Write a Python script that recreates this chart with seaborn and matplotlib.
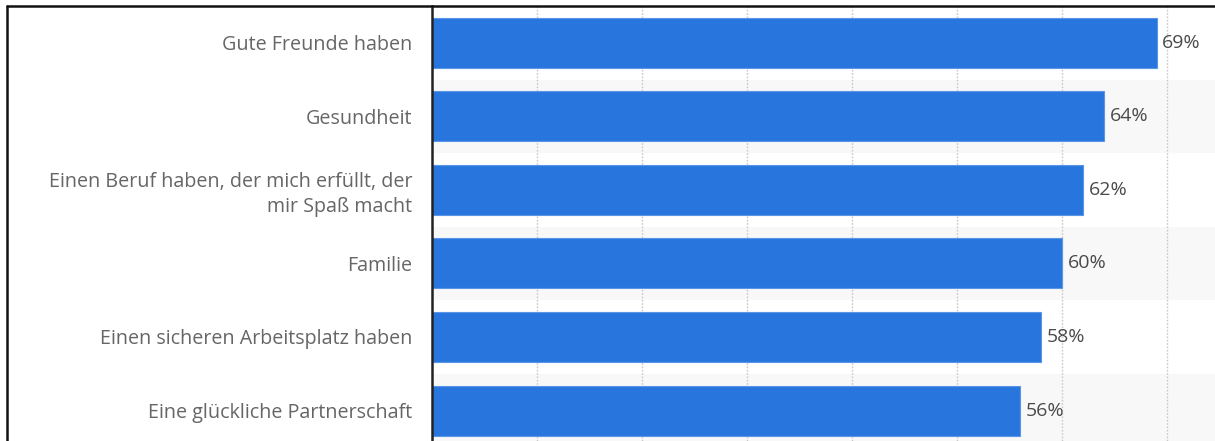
import matplotlib
matplotlib.use("Agg")
import matplotlib.pyplot as plt
from matplotlib.lines import Line2D
import seaborn as sns
import pandas as pd

categories = [
    "Gute Freunde haben",
    "Gesundheit",
    "Einen Beruf haben, der mich erfüllt, der\nmir Spaß macht",
    "Familie",
    "Einen sicheren Arbeitsplatz haben",
    "Eine glückliche Partnerschaft",
]
values = [69, 64, 62, 60, 58, 56]
value_labels = ["69%", "64%", "62%", "60%", "58%", "56%"]

sns.set_theme(style="white")
plt.rcParams['font.family'] = ['Open Sans', 'DejaVu Sans']

W, H = 1215, 441
fig = plt.figure(figsize=(W / 100, H / 100), dpi=100)
ax_left, ax_top = 432, 6
ax = fig.add_axes([ax_left / W, 0, 1 - ax_left / W, 1 - ax_top / H])

df = pd.DataFrame({"cat": categories, "val": values})
sns.barplot(data=df, y="cat", x="val", orient="h", color="#2876dd",
            saturation=1, width=0.68, ax=ax, zorder=3,
            edgecolor="#5a95e6", linewidth=0.8)

n = len(categories)
for i in range(n):
    if i % 2 == 1:
        ax.axhspan(i - 0.5, i + 0.5, color="#f8f8f8", zorder=0, lw=0)

ax.set_xlim(0, (W - ax_left) / 10.5)
ax.set_ylim(5.414, -0.5)
for g in range(10, 80, 10):
    ax.axvline(g, color="#c8c8c8", lw=1, ls=(0, (1.2, 1.2)), zorder=1)

ax.set_xlabel("")
ax.set_ylabel("")
ax.set_xticks([])
ax.tick_params(axis="y", length=0, pad=14, labelsize=14.2, labelcolor="#666666")
for lbl in ax.get_yticklabels():
    lbl.set_linespacing(1.3)
for s in ["top", "right", "bottom"]:
    ax.spines[s].set_visible(False)
ax.spines["left"].set_color("#222222")
ax.spines["left"].set_linewidth(1.8)
ax.spines["left"].set_zorder(5)

for container in ax.containers:
    ax.bar_label(container, labels=value_labels, padding=4, fontsize=14,
                 color="#4a4a4a")

# outer frame lines
fig.add_artist(Line2D([7 / W, 1], [1 - 6 / H, 1 - 6 / H], color="#111111",
                      lw=1.8, transform=fig.transFigure))
fig.add_artist(Line2D([7 / W, 7 / W], [0, 1 - 6 / H], color="#111111",
                      lw=1.8, transform=fig.transFigure))

fig.savefig("out.png", dpi=100)
